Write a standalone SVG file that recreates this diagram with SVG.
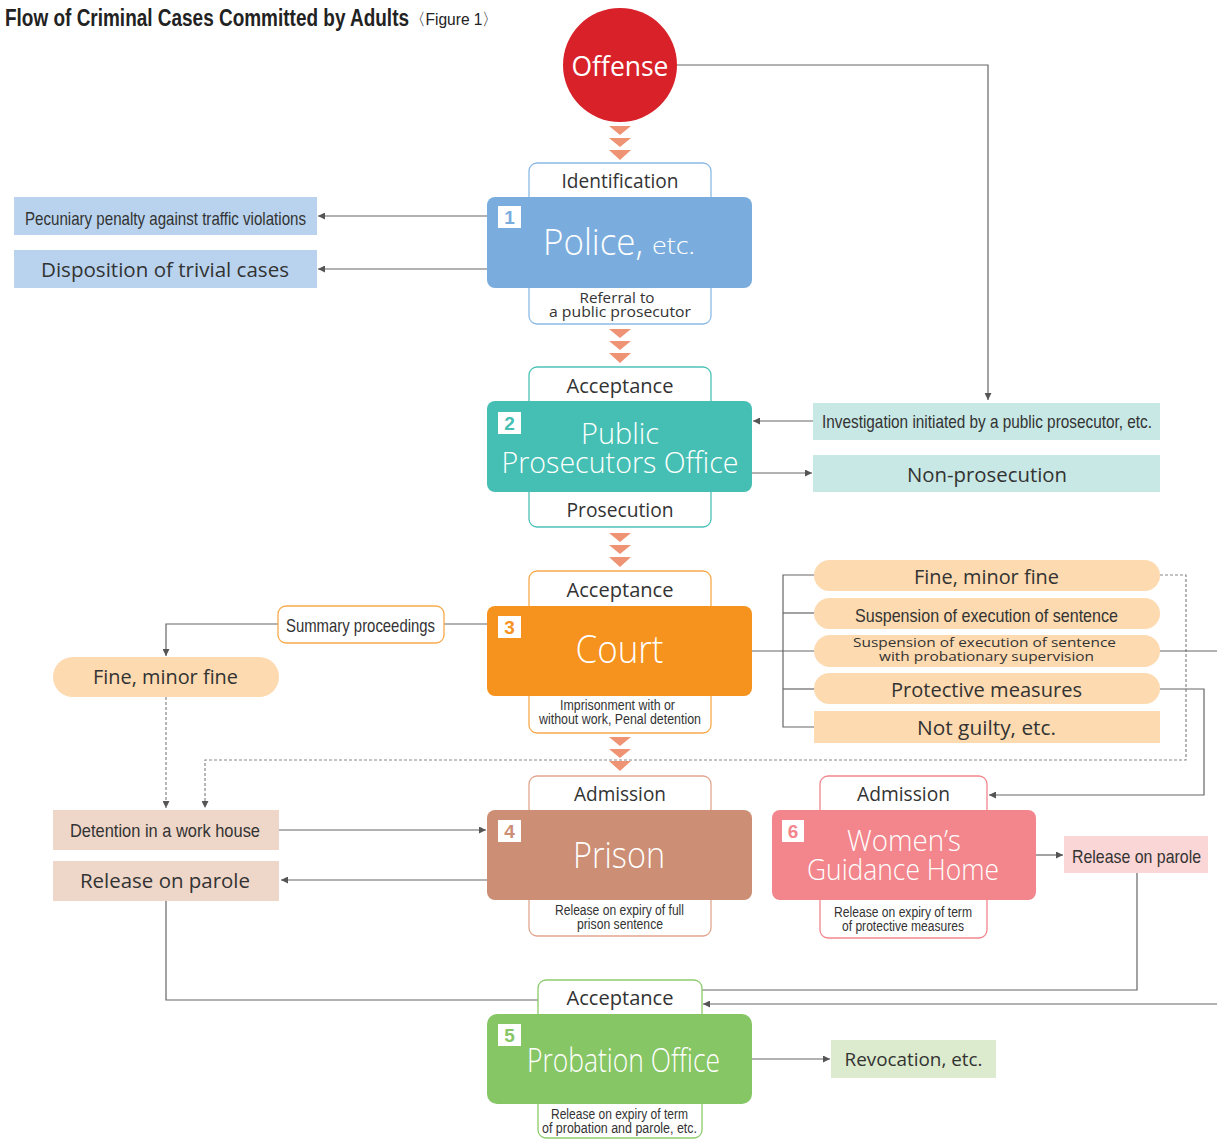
<svg xmlns="http://www.w3.org/2000/svg" width="1217" height="1140" viewBox="0 0 1217 1140">
<defs>
<style>
.t{font-family:"Open Sans","Noto Sans",sans-serif;fill:#333}
.n{font-family:"Liberation Sans Narrow","Liberation Sans",sans-serif;fill:#333}
.w{font-family:"Open Sans","Noto Sans",sans-serif;fill:#fff;font-weight:300}
.m{text-anchor:middle}
.ln{fill:none;stroke:#666;stroke-width:1.2}
.dl{fill:none;stroke:#888;stroke-width:1.2;stroke-dasharray:3 2}
.ch{fill:#EE9475}
.badge{fill:#fff}
.bn{font-family:"Liberation Sans",sans-serif;font-weight:bold;font-size:19px;text-anchor:middle}
</style>
<marker id="ah" viewBox="0 0 10 10" refX="10" refY="5" markerUnits="userSpaceOnUse" markerWidth="10" markerHeight="7" orient="auto"><path d="M0,0 L10,5 L0,10 z" fill="#555"/></marker>
<path id="chev" d="M-11,0 L11,0 L0,9 Z M-11,12 L11,12 L0,21 Z M-11,24 L11,24 L0,34 Z"/>
</defs>
<rect width="1217" height="1140" fill="#fff"/>

<g id="title">
<text x="5" y="26" font-family="Liberation Sans,sans-serif" font-weight="bold" font-size="23" fill="#222" textLength="404" lengthAdjust="spacingAndGlyphs">Flow of Criminal Cases Committed by Adults</text>
<text x="410" y="25" font-family="Liberation Sans,sans-serif" font-size="17" fill="#222" textLength="88" lengthAdjust="spacingAndGlyphs">〈Figure 1〉</text>
</g>

<g id="chevrons">
<use href="#chev" class="ch" x="620" y="126"/>
<use href="#chev" class="ch" x="620" y="329"/>
<use href="#chev" class="ch" x="620" y="533"/>
<use href="#chev" class="ch" x="620" y="737"/>
</g>

<g id="connectors">
<polyline class="ln" points="677,65 988,65 988,400" marker-end="url(#ah)"/>
<line class="ln" x1="487" y1="216" x2="318" y2="216" marker-end="url(#ah)"/>
<line class="ln" x1="487" y1="269" x2="318" y2="269" marker-end="url(#ah)"/>
<line class="ln" x1="813" y1="421" x2="753" y2="421" marker-end="url(#ah)"/>
<line class="ln" x1="752" y1="473" x2="812" y2="473" marker-end="url(#ah)"/>
<line class="ln" x1="752" y1="651" x2="815" y2="651"/>
<polyline class="ln" points="815,575 783,575 783,727 815,727"/>
<line class="ln" x1="783" y1="613" x2="815" y2="613"/>
<line class="ln" x1="783" y1="689" x2="815" y2="689"/>
<polyline class="ln" points="487,624 444,624"/>
<polyline class="ln" points="278,624 166,624 166,656" marker-end="url(#ah)"/>
<polyline class="dl" points="1160,575 1186,575 1186,760 205,760 205,808" marker-end="url(#ah)"/>
<polyline class="dl" points="166,697 166,808" marker-end="url(#ah)"/>
<line class="ln" x1="1160" y1="651" x2="1217" y2="651"/>
<polyline class="ln" points="1160,689 1204,689 1204,795 989,795" marker-end="url(#ah)"/>
<line class="ln" x1="279" y1="830" x2="486" y2="830" marker-end="url(#ah)"/>
<line class="ln" x1="487" y1="880" x2="281" y2="880" marker-end="url(#ah)"/>
<polyline class="ln" points="166,901 166,1000 538,1000"/>
<line class="ln" x1="1036" y1="855" x2="1063" y2="855" marker-end="url(#ah)"/>
<polyline class="ln" points="1137,873 1137,990 702,990"/>
<line class="ln" x1="1217" y1="1004" x2="703" y2="1004" marker-end="url(#ah)"/>
<line class="ln" x1="752" y1="1059" x2="830" y2="1059" marker-end="url(#ah)"/>
</g>

<g id="offense">
<circle cx="620" cy="65" r="57" fill="#D92129"/>
<text class="w m" x="620" y="76" font-size="28" style="font-weight:400" textLength="97" lengthAdjust="spacingAndGlyphs">Offense</text>
</g>

<g id="police">
<rect x="529" y="163" width="182" height="161" rx="8" fill="#fff" stroke="#8BBBE6" stroke-width="1.3"/>
<text class="t m" x="620" y="188" font-size="20" textLength="117" lengthAdjust="spacingAndGlyphs">Identification</text>
<rect x="487" y="197" width="265" height="91" rx="8" fill="#7AADDD"/>
<rect class="badge" x="498" y="206" width="23" height="22"/>
<text class="bn" x="509.5" y="224" fill="#7AADDD">1</text>
<text class="w" x="543" y="255" font-size="36" textLength="100" lengthAdjust="spacingAndGlyphs">Police,</text>
<text class="w" x="652" y="254" font-size="24" textLength="43" lengthAdjust="spacingAndGlyphs">etc.</text>
<text class="t m" x="617" y="303" font-size="14" textLength="75" lengthAdjust="spacingAndGlyphs">Referral to</text>
<text class="t m" x="620" y="317" font-size="14" textLength="142" lengthAdjust="spacingAndGlyphs">a public prosecutor</text>
</g>

<g id="pecuniary">
<rect x="14" y="197" width="303" height="38" fill="#B9D3EE"/>
<text class="n m" x="165.5" y="225" font-size="19" textLength="281" lengthAdjust="spacingAndGlyphs">Pecuniary penalty against traffic violations</text>
</g>
<g id="trivial">
<rect x="14" y="250" width="303" height="38" fill="#B9D3EE"/>
<text class="t m" x="165" y="277" font-size="20" textLength="248" lengthAdjust="spacingAndGlyphs">Disposition of trivial cases</text>
</g>

<g id="prosecutors">
<rect x="529" y="367" width="182" height="160" rx="8" fill="#fff" stroke="#4DC1B6" stroke-width="1.3"/>
<text class="t m" x="620" y="393" font-size="20" textLength="107" lengthAdjust="spacingAndGlyphs">Acceptance</text>
<rect x="487" y="401" width="265" height="91" rx="8" fill="#45BFB3"/>
<rect class="badge" x="498" y="412" width="23" height="22"/>
<text class="bn" x="509.5" y="430" fill="#45BFB3">2</text>
<text class="w m" x="620" y="444" font-size="29" textLength="78" lengthAdjust="spacingAndGlyphs">Public</text>
<text class="w m" x="620" y="473" font-size="29" textLength="237" lengthAdjust="spacingAndGlyphs">Prosecutors Office</text>
<text class="t m" x="620" y="517" font-size="20" textLength="107" lengthAdjust="spacingAndGlyphs">Prosecution</text>
</g>

<g id="investigation">
<rect x="813" y="403" width="347" height="37" fill="#C8E8E5"/>
<text class="n m" x="987" y="428" font-size="19" textLength="330" lengthAdjust="spacingAndGlyphs">Investigation initiated by a public prosecutor, etc.</text>
</g>
<g id="nonprosecution">
<rect x="813" y="455" width="347" height="37" fill="#C8E8E5"/>
<text class="t m" x="987" y="482" font-size="20" textLength="160" lengthAdjust="spacingAndGlyphs">Non-prosecution</text>
</g>

<g id="court">
<rect x="529" y="571" width="182" height="162" rx="8" fill="#fff" stroke="#F7A94B" stroke-width="1.3"/>
<text class="t m" x="620" y="597" font-size="20" textLength="107" lengthAdjust="spacingAndGlyphs">Acceptance</text>
<rect x="487" y="606" width="265" height="90" rx="8" fill="#F6921E"/>
<rect class="badge" x="498" y="616" width="23" height="22"/>
<text class="bn" x="509.5" y="634" fill="#F6921E">3</text>
<text class="w m" x="619.5" y="663" font-size="38" textLength="88" lengthAdjust="spacingAndGlyphs">Court</text>
<text class="n m" x="617.5" y="710" font-size="14" textLength="115" lengthAdjust="spacingAndGlyphs">Imprisonment with or</text>
<text class="n m" x="620" y="724" font-size="14" textLength="162" lengthAdjust="spacingAndGlyphs">without work, Penal detention</text>
</g>

<g id="summary">
<rect x="278" y="606" width="166" height="37" rx="8" fill="#fff" stroke="#F7A94B" stroke-width="1.3"/>
<text class="n m" x="360.5" y="632" font-size="19" textLength="149" lengthAdjust="spacingAndGlyphs">Summary proceedings</text>
</g>
<g id="fine-left">
<rect x="53" y="657" width="226" height="40" rx="20" fill="#FDDAB0"/>
<text class="t m" x="165.5" y="684" font-size="20" textLength="145" lengthAdjust="spacingAndGlyphs">Fine, minor fine</text>
</g>

<g id="fine-right">
<rect x="814" y="560" width="346" height="31" rx="15.5" fill="#FDDAB0"/>
<text class="t m" x="986.5" y="584" font-size="20" textLength="145" lengthAdjust="spacingAndGlyphs">Fine, minor fine</text>
</g>
<g id="suspension">
<rect x="814" y="598" width="346" height="31" rx="15.5" fill="#FDDAB0"/>
<text class="n m" x="986.5" y="622" font-size="19" textLength="263" lengthAdjust="spacingAndGlyphs">Suspension of execution of sentence</text>
</g>
<g id="suspension-prob">
<rect x="814" y="635" width="346" height="32" rx="16" fill="#FDDAB0"/>
<text class="t m" x="984.5" y="647" font-size="13.5" textLength="263" lengthAdjust="spacingAndGlyphs">Suspension of execution of sentence</text>
<text class="t m" x="986.5" y="661" font-size="13.5" textLength="215" lengthAdjust="spacingAndGlyphs">with probationary supervision</text>
</g>
<g id="protective">
<rect x="814" y="673" width="346" height="31" rx="15.5" fill="#FDDAB0"/>
<text class="t m" x="986.5" y="697" font-size="20" textLength="191" lengthAdjust="spacingAndGlyphs">Protective measures</text>
</g>
<g id="notguilty">
<rect x="814" y="711" width="346" height="32" fill="#FDDAB0"/>
<text class="t m" x="986.5" y="735" font-size="20" textLength="139" lengthAdjust="spacingAndGlyphs">Not guilty, etc.</text>
</g>

<g id="prison">
<rect x="529" y="776" width="182" height="160" rx="8" fill="#fff" stroke="#E2A58C" stroke-width="1.3"/>
<text class="t m" x="620" y="801" font-size="20" textLength="92" lengthAdjust="spacingAndGlyphs">Admission</text>
<rect x="487" y="810" width="265" height="90" rx="8" fill="#CC8E74"/>
<rect class="badge" x="498" y="820" width="23" height="22"/>
<text class="bn" x="509.5" y="838" fill="#CC8E74">4</text>
<text class="w m" x="619" y="868" font-size="37" textLength="92" lengthAdjust="spacingAndGlyphs">Prison</text>
<text class="n m" x="619.5" y="915" font-size="14" textLength="129" lengthAdjust="spacingAndGlyphs">Release on expiry of full</text>
<text class="n m" x="620" y="929" font-size="14" textLength="86" lengthAdjust="spacingAndGlyphs">prison sentence</text>
</g>

<g id="detention">
<rect x="53" y="810" width="226" height="40" fill="#EED7C9"/>
<text class="n m" x="165" y="837" font-size="19" textLength="190" lengthAdjust="spacingAndGlyphs">Detention in a work house</text>
</g>
<g id="parole-left">
<rect x="53" y="861" width="226" height="40" fill="#EED7C9"/>
<text class="t m" x="165" y="888" font-size="20" textLength="170" lengthAdjust="spacingAndGlyphs">Release on parole</text>
</g>

<g id="womens">
<rect x="820" y="776" width="167" height="162" rx="8" fill="#fff" stroke="#F2868C" stroke-width="1.3"/>
<text class="t m" x="903.5" y="801" font-size="20" textLength="93" lengthAdjust="spacingAndGlyphs">Admission</text>
<rect x="772" y="810" width="264" height="90" rx="8" fill="#F2868C"/>
<rect class="badge" x="782" y="820" width="22" height="22"/>
<text class="bn" x="793" y="838" fill="#F2868C">6</text>
<text class="w m" x="904" y="851" font-size="29" textLength="114" lengthAdjust="spacingAndGlyphs">Women’s</text>
<text class="w m" x="903" y="880" font-size="29" textLength="192" lengthAdjust="spacingAndGlyphs">Guidance Home</text>
<text class="n m" x="903" y="917" font-size="14" textLength="138" lengthAdjust="spacingAndGlyphs">Release on expiry of term</text>
<text class="n m" x="903" y="931" font-size="14" textLength="122" lengthAdjust="spacingAndGlyphs">of protective measures</text>
</g>
<g id="parole-right">
<rect x="1064" y="836" width="144" height="37" fill="#FBD6D6"/>
<text class="n m" x="1136.5" y="863" font-size="19" textLength="129" lengthAdjust="spacingAndGlyphs">Release on parole</text>
</g>

<g id="probation">
<rect x="538" y="980" width="164" height="158" rx="8" fill="#fff" stroke="#8DCB6A" stroke-width="1.3"/>
<text class="t m" x="620" y="1005" font-size="20" textLength="107" lengthAdjust="spacingAndGlyphs">Acceptance</text>
<rect x="487" y="1014" width="265" height="90" rx="10" fill="#87C665"/>
<rect class="badge" x="498" y="1024" width="23" height="22"/>
<text class="bn" x="509.5" y="1042" fill="#87C665">5</text>
<text class="w m" x="623.5" y="1072" font-size="33" textLength="193" lengthAdjust="spacingAndGlyphs">Probation Office</text>
<text class="n m" x="619.5" y="1119" font-size="14" textLength="137" lengthAdjust="spacingAndGlyphs">Release on expiry of term</text>
<text class="n m" x="619.5" y="1133" font-size="14" textLength="155" lengthAdjust="spacingAndGlyphs">of probation and parole, etc.</text>
</g>
<g id="revocation">
<rect x="831" y="1040" width="165" height="38" fill="#DCEBCD"/>
<text class="t m" x="913.5" y="1066" font-size="19" textLength="138" lengthAdjust="spacingAndGlyphs">Revocation, etc.</text>
</g>
</svg>
